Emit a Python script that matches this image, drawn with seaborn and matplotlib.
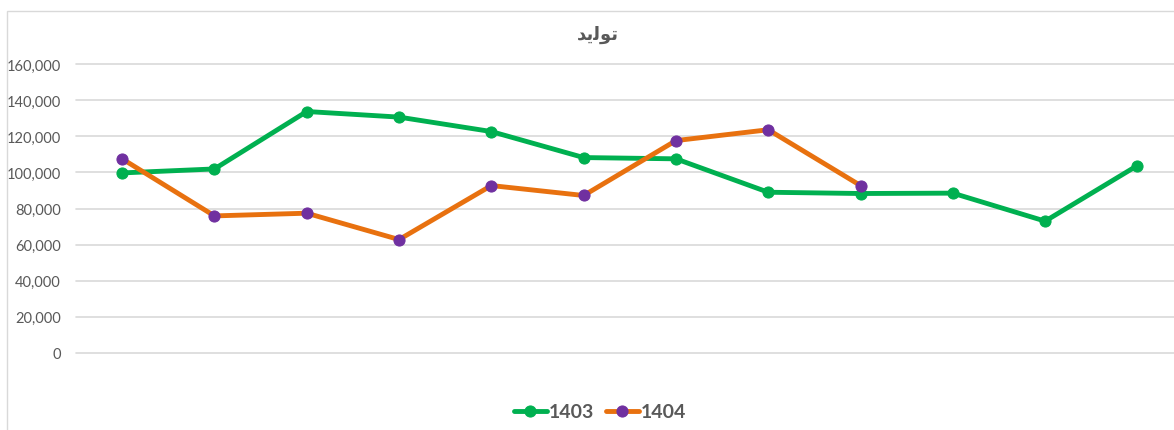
import matplotlib.pyplot as plt
import matplotlib.patches as mpatches
import pandas as pd
import seaborn as sns

# monthly production, Persian years 1403 / 1404
months = list(range(1, 13))
prod_1403 = [99700, 101900, 133700, 130600, 122600, 108200, 107500,
             89000, 88300, 88500, 73000, 103800]
prod_1404 = [107500, 75900, 77400, 62800, 92700, 87200, 117600, 123600, 92700]
series_names = ["1403", "1404"]
# title "تولید" written in shaped (presentation) forms, visual order,
# since matplotlib does not shape Arabic script itself
title_text = "\ufeaa\ufbfe\ufedf\ufeee\ufe97"

rows = []
for m, v in zip(months, prod_1403):
    rows.append({"month": m, "value": v, "year": "1403"})
for m, v in zip(months, prod_1404):
    rows.append({"month": m, "value": v, "year": "1404"})
df = pd.DataFrame(rows)

sns.set_theme(style="white")
plt.rcParams["font.family"] = ["Lato", "DejaVu Sans"]

W, H = 1174, 431
fig = plt.figure(figsize=(W / 100, H / 100), dpi=100)
ax = fig.add_axes([76 / W, (H - 354) / H, (W - 76) / W, (354 - 65) / H])

palette = {"1403": "#00b050", "1404": "#e8710f"}
sns.lineplot(data=df, x="month", y="value", hue="year", palette=palette,
             marker="o", linewidth=3.5, markersize=8, legend=False, ax=ax)

marker_cols = {"1403": "#00b050", "1404": "#7030a0"}
for line, name in zip(ax.lines, series_names):
    line.set_markerfacecolor(marker_cols[name])
    line.set_markeredgecolor(marker_cols[name])
    line.set_clip_on(False)
    line.set_label(name)

ax.set_ylim(0, 160000)
ax.set_xlim(0.5, 0.5 + (W - 76) / 92.3)
ax.set_yticks(range(0, 160001, 20000))
ax.set_yticklabels([f"{t:,}" for t in range(0, 160001, 20000)])
ax.set_xticks([])
ax.set_xlabel("")
ax.set_ylabel("")
ax.grid(axis="y", color="#d9d9d9", linewidth=1.2)
ax.set_axisbelow(True)
for g in ax.get_ygridlines():
    g.set_clip_on(False)
for s in ax.spines.values():
    s.set_visible(False)
ax.tick_params(axis="y", length=0, pad=11, labelsize=10.5, labelcolor="#595959")

# chart border
fig.patches.append(mpatches.Rectangle((7 / W, -0.1), 1.2, (H - 12) / H + 0.1,
                                      transform=fig.transFigure, fill=False,
                                      edgecolor="#d9d9d9", linewidth=1))

fig.text(598 / W, 1 - 35 / H, title_text, ha="center", va="center",
         fontsize=13, fontweight="bold", color="#595959",
         family=["DejaVu Sans"])

leg = fig.legend(handles=ax.lines, labels=series_names, loc="center",
                 bbox_to_anchor=(600 / W, 1 - 413 / H), ncol=2, frameon=False,
                 handlelength=1.7, handletextpad=0.1, columnspacing=0.6,
                 prop={"size": 14, "weight": "bold"})
for t in leg.get_texts():
    t.set_color("#595959")

fig.savefig("out.png", dpi=100)
